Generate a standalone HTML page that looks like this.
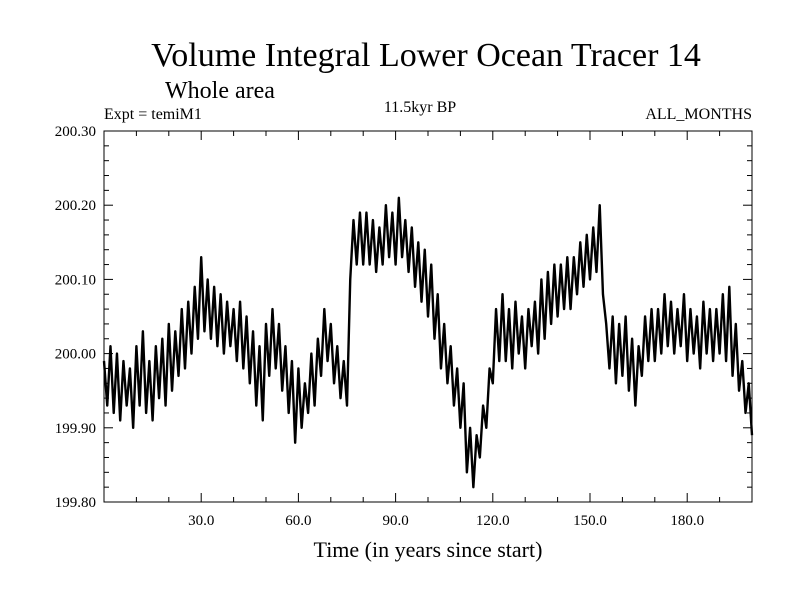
<!DOCTYPE html>
<html><head><meta charset="utf-8"><style>
body{margin:0;background:#fff}
svg{display:block;font-family:"Liberation Serif",serif}
</style></head><body>
<svg id="chart" width="800" height="600" viewBox="0 0 800 600">
<text x="426" y="66" font-size="34" text-anchor="middle">Volume Integral Lower Ocean Tracer 14</text>
<text x="165" y="98" font-size="24">Whole area</text>
<text x="104" y="119" font-size="16">Expt = temiM1</text>
<text x="420" y="112" font-size="16" text-anchor="middle">11.5kyr BP</text>
<text x="752" y="119" font-size="16" text-anchor="end">ALL_MONTHS</text>
<text x="428" y="557" font-size="22" text-anchor="middle">Time (in years since start)</text>
<g id="axes"></g>
<path id="series" fill="none" stroke="#000" stroke-width="2.4" stroke-linejoin="round"/>
<rect x="104" y="131" width="648" height="371" fill="none" stroke="#000" stroke-width="1"/>
</svg>
<script>
const xTicks=[30,60,90,120,150,180];
const xTickLabels=["30.0","60.0","90.0","120.0","150.0","180.0"];
const yTicks=[199.8,199.9,200.0,200.1,200.2,200.3];
const yTickLabels=["199.80","199.90","200.00","200.10","200.20","200.30"];
const startYear=0;
const values=[199.99,199.93,200.01,199.92,200.00,199.91,199.99,199.93,199.98,199.90,
200.01,199.93,200.03,199.92,199.99,199.91,200.01,199.94,200.02,199.93,
200.04,199.95,200.03,199.97,200.06,199.98,200.07,200.00,200.09,200.02,
200.13,200.03,200.10,200.02,200.09,200.01,200.08,200.00,200.07,200.01,
200.06,199.99,200.07,199.98,200.05,199.96,200.03,199.93,200.01,199.91,
200.04,199.97,200.06,199.98,200.04,199.95,200.01,199.92,199.99,199.88,
199.98,199.90,199.96,199.92,200.00,199.93,200.02,199.97,200.06,199.99,
200.04,199.96,200.01,199.94,199.99,199.93,200.10,200.18,200.12,200.19,
200.12,200.19,200.12,200.18,200.11,200.17,200.12,200.20,200.13,200.19,
200.12,200.21,200.13,200.18,200.11,200.17,200.09,200.15,200.07,200.14,
200.05,200.12,200.02,200.08,199.98,200.04,199.96,200.01,199.93,199.98,
199.90,199.96,199.84,199.90,199.82,199.89,199.86,199.93,199.90,199.98,
199.96,200.06,199.99,200.08,199.99,200.06,199.98,200.07,200.00,200.05,
199.98,200.06,200.01,200.07,200.00,200.10,200.02,200.11,200.04,200.12,
200.05,200.12,200.06,200.13,200.06,200.13,200.08,200.15,200.09,200.16,
200.10,200.17,200.11,200.20,200.08,200.04,199.98,200.05,199.96,200.04,
199.97,200.05,199.95,200.02,199.93,200.01,199.97,200.05,199.99,200.06,
199.99,200.06,200.00,200.08,200.01,200.07,200.00,200.06,200.01,200.08,
199.99,200.06,200.00,200.05,199.98,200.07,200.00,200.06,199.99,200.06,
200.00,200.08,199.99,200.09,199.97,200.04,199.95,199.99,199.92,199.96,199.89];
const L=104,R=752,T=131,B=502,X0=0,X1=200,Y0=199.8,Y1=200.3;
const sx=v=>L+(v-X0)/(X1-X0)*(R-L);
const sy=v=>B-(v-Y0)/(Y1-Y0)*(B-T);
const NS="http://www.w3.org/2000/svg";
const ax=document.getElementById('axes');
function line(x1,y1,x2,y2,name){const l=document.createElementNS(NS,'line');
l.setAttribute('x1',x1);l.setAttribute('y1',y1);l.setAttribute('x2',x2);l.setAttribute('y2',y2);
l.setAttribute('stroke','#000');l.setAttribute('stroke-width','1');


ax.appendChild(l);}
function text(x,y,s,anchor,name){const t=document.createElementNS(NS,'text');
t.setAttribute('x',x);t.setAttribute('y',y);t.setAttribute('font-size','15');t.setAttribute('text-anchor',anchor);t.textContent=s;


ax.appendChild(t);}
for(let v=10;v<X1;v+=10){const x=sx(v);const major=v%30===0;const len=major?9:5;
line(x,B,x,B-len,'x-tick');line(x,T,x,T+len,'x-tick-top');}
for(let i=1;i<25;i++){const v=Y0+i*0.02;const y=sy(v);const major=i%5===0;const len=major?9:5;
line(L,y,L+len,y,'y-tick');line(R,y,R-len,y,'y-tick-right');}
xTicks.forEach((v,i)=>text(sx(v),525,xTickLabels[i],'middle','x-tick-label'));
yTicks.forEach((v,i)=>text(96,sy(v)+5,yTickLabels[i],'end','y-tick-label'));
let d='';values.forEach((v,i)=>{d+=(i?'L':'M')+sx(startYear+i).toFixed(2)+','+sy(v).toFixed(2);});
document.getElementById('series').setAttribute('d',d);
</script>
</body></html>
